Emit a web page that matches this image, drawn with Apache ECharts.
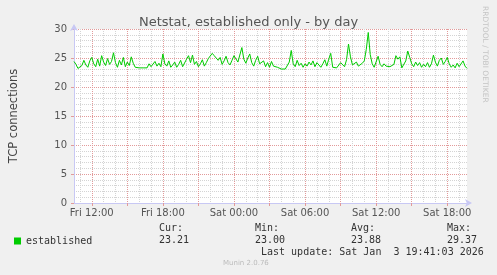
<!DOCTYPE html>
<html><head><meta charset="utf-8">
<script src="https://cdn.jsdelivr.net/npm/echarts@6/dist/echarts.min.js"></script>
<style>html,body{margin:0;padding:0;background:#f0f0f0}#c{width:497px;height:275px}</style>
</head><body><div id="c"></div>
<script>
// minutes since Fri 00:00, one sample every 10 minutes
const startMinute = 630;
const stepMinute = 10;
const established = [
24.4,23.9,23.2,23.0,23.7,24.6,23.8,23.4,24.5,25.1,
24.0,23.5,24.8,23.6,25.4,24.3,23.7,24.9,23.9,24.4,
25.9,24.2,23.4,24.6,23.8,25.1,23.5,24.3,23.7,25.2,
24.1,23.4,23.3,23.3,23.5,23.3,23.6,23.3,24.0,23.5,
23.7,24.4,23.6,24.1,23.5,25.7,24.0,23.6,24.5,23.4,
23.8,24.3,23.4,23.9,24.6,23.5,23.7,24.8,25.4,24.2,
25.5,23.9,24.4,23.5,24.0,24.7,23.6,24.2,24.9,25.1,
25.8,25.4,25.7,24.6,25.1,23.9,24.5,25.3,24.2,23.8,
24.6,25.4,25.6,24.3,24.0,26.8,24.8,24.1,25.0,25.7,
24.2,23.6,24.6,25.3,24.0,23.7,24.5,23.5,24.2,23.4,
24.4,23.6,23.9,23.4,23.2,23.1,23.1,23.1,23.2,24.3,
26.3,24.0,23.5,24.6,23.7,24.1,23.4,24.0,23.6,24.3,
23.8,24.5,23.5,24.2,23.9,23.4,24.0,24.7,23.6,24.8,
25.8,23.4,23.2,23.3,23.6,24.2,24.5,23.5,24.7,27.4,
25.2,23.8,23.5,24.3,23.6,23.4,24.1,24.5,26.5,29.4,
25.6,24.0,23.4,23.3,25.3,23.9,23.5,24.0,23.6,23.4,
23.5,23.2,23.9,25.4,24.8,25.2,23.3,23.6,24.5,26.2,
25.1,24.0,23.5,24.3,23.7,24.2,23.4,23.9,23.5,24.2,
23.4,24.0,25.5,24.3,23.6,24.6,25.0,23.9,24.4,25.1,
24.0,23.4,23.8,23.3,24.1,23.5,23.7,24.5,23.6,23.21
];
const categories = established.map((_, i) => startMinute + i * stepMinute);
const tickMinutes = [720, 1080, 1440, 1800, 2160, 2520];
const tickLabels = ['Fri 12:00', 'Fri 18:00', 'Sat 00:00', 'Sat 06:00', 'Sat 12:00', 'Sat 18:00'];
const seriesName = 'established';
const statNames = ['Cur:', 'Min:', 'Avg:', 'Max:'];
const statValues = ['23.21', '23.00', '23.88', '29.37'];
const lastUpdate = 'Last update: Sat Jan  3 19:41:03 2026';
const footer = 'Munin 2.0.76';

const MAJOR = '#E29A9A', MINOR = '#D4D4D4', AXIS = '#C8C8F4';
const dash = [1, 1];
const chart = echarts.init(document.getElementById('c'), null, {renderer: 'canvas'});
const mono = 'DejaVu Sans Mono';
const graphics = [
  {type: 'text', left: 481, top: 6, rotation: -Math.PI / 2, originX: 0, originY: 0,
   style: {text: 'RRDTOOL / TOBI OETIKER', fill: '#C4C4C4', font: '7.5px "DejaVu Sans"'}},
  {type: 'text', left: 261, top: 247, style: {text: lastUpdate, fill: '#333', font: '10px "' + mono + '"'}},
  {type: 'text', left: 223, top: 260, style: {text: footer, fill: '#BBBBBB', font: '7px "DejaVu Sans"'}}
];
const statX = [159, 255, 351, 447];
statNames.forEach((n, k) => {
  graphics.push({type: 'text', left: statX[k], top: 223, style: {text: n, fill: '#333', font: '10px "' + mono + '"'}});
  graphics.push({type: 'text', left: statX[k], top: 235, style: {text: statValues[k], fill: '#333', font: '10px "' + mono + '"'}});
});

chart.setOption({
  backgroundColor: '#F0F0F0',
  animation: false,
  title: {text: 'Netstat, established only - by day', left: 'center', top: 11,
    textStyle: {fontFamily: 'DejaVu Sans', fontSize: 13, fontWeight: 'normal', color: '#555'}},
  legend: {left: 9, top: 231, itemWidth: 7, itemHeight: 7, icon: 'rect', itemGap: 6,
    data: [seriesName],
    textStyle: {fontFamily: mono, fontSize: 10, color: '#333', padding: [0, 0, 0, 0]}},
  grid: {left: 67, right: 30, top: 29, bottom: 72, show: true, backgroundColor: '#FFFFFF', borderWidth: 0},
  xAxis: [
    {type: 'category', position: 'bottom', data: categories, boundaryGap: false,
     axisLine: {show: false}, axisTick: {show: false}, axisLabel: {show: false},
     splitLine: {show: true, interval: (i, v) => (+v) % 60 === 0 && (+v) % 180 !== 0,
       lineStyle: {color: MINOR, type: dash, width: 1}}},
    {type: 'category', position: 'bottom', data: categories, boundaryGap: false,
     axisLine: {show: true, lineStyle: {color: AXIS, width: 1}, symbol: ['none', 'arrow'], symbolSize: [6, 7], symbolOffset: [0, 5]},
     axisTick: {show: true, length: 3, interval: (i, v) => (+v) % 180 === 0, lineStyle: {color: MAJOR}},
     axisLabel: {show: true, interval: (i, v) => tickMinutes.indexOf(+v) >= 0,
       formatter: v => tickLabels[tickMinutes.indexOf(+v)] || '',
       fontFamily: 'DejaVu Sans', fontSize: 10, color: '#555', margin: 5},
     splitLine: {show: true, interval: (i, v) => (+v) % 180 === 0,
       lineStyle: {color: MAJOR, type: dash, width: 1}}}
  ],
  yAxis: {type: 'value', min: 0, max: 30, interval: 5,
    name: 'TCP connections', nameLocation: 'middle', nameGap: 54, nameRotate: 90,
    nameTextStyle: {fontFamily: 'DejaVu Sans', fontSize: 11.5, color: '#444'},
    axisLine: {show: true, lineStyle: {color: AXIS, width: 1}, symbol: ['none', 'arrow'], symbolSize: [6, 7], symbolOffset: [0, 5]},
    axisTick: {show: true, length: 3, lineStyle: {color: MAJOR}},
    axisLabel: {fontFamily: 'DejaVu Sans', fontSize: 10, color: '#555', margin: 7},
    splitLine: {show: true, lineStyle: {color: MAJOR, type: dash, width: 1}},
    minorTick: {show: false, splitNumber: 5},
    minorSplitLine: {show: true, lineStyle: {color: MINOR, type: dash, width: 1}}
  },
  series: [{
    name: seriesName, type: 'line', xAxisIndex: 1, data: established, showSymbol: false, symbol: 'none',
    lineStyle: {color: '#00CC00', width: 1}, itemStyle: {color: '#00CC00'}
  }],
  graphic: graphics
});
</script></body></html>
